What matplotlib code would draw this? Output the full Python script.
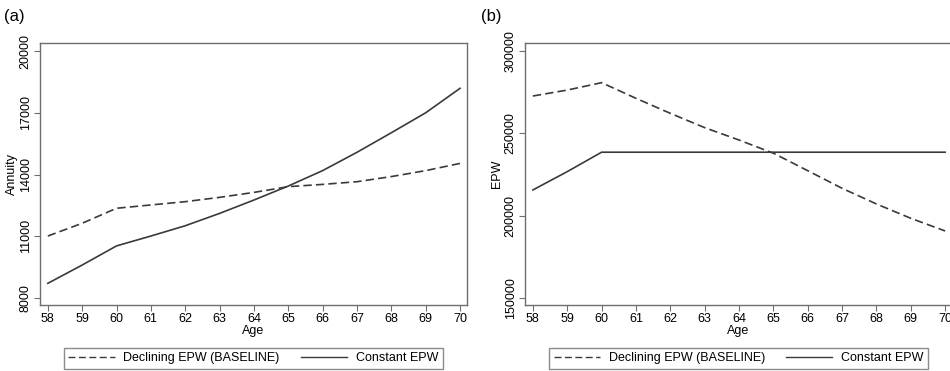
import matplotlib.pyplot as plt
from matplotlib.lines import Line2D

plt.rcParams['font.family'] = ['Liberation Sans', 'DejaVu Sans']

ages = [58, 59, 60, 61, 62, 63, 64, 65, 66, 67, 68, 69, 70]

# panel (a): annuity
annuity_declining = [11010, 11630, 12360, 12520, 12680, 12890, 13130,
                     13410, 13520, 13650, 13900, 14190, 14540]
annuity_constant = [8710, 9600, 10530, 11010, 11510, 12110, 12760,
                    13440, 14190, 15080, 16030, 17000, 18190]

# panel (b): EPW
epw_declining = [272700, 276300, 280800, 271300, 262200, 253500, 246000,
                 238000, 227400, 216700, 207200, 198500, 190800]
epw_constant = [215700, 226800, 238600, 238600, 238600, 238600, 238600,
                238600, 238600, 238600, 238600, 238600, 238600]

annuity_ticks = [8000, 11000, 14000, 17000, 20000]
epw_ticks = [150000, 200000, 250000, 300000]

line_col = '#3a3a3a'
frame_col = '#6e6e6e'

fig = plt.figure(figsize=(9.5, 3.71), dpi=100)
ax1 = fig.add_axes([0.042, 0.178, 0.4495, 0.706])
ax2 = fig.add_axes([0.5526, 0.178, 0.4495, 0.706])

panels = [
    (ax1, annuity_declining, annuity_constant, annuity_ticks, 'Annuity', (7660, 20390)),
    (ax2, epw_declining, epw_constant, epw_ticks, 'EPW', (145900, 304850)),
]

for ax, dec, con, yt, ylab, ylim in panels:
    ax.plot(ages, dec, color=line_col, lw=1.2, ls=(0, (5, 2.5)))
    ax.plot(ages, con, color=line_col, lw=1.2)
    ax.set_xlim(57.77, 70.2)
    ax.set_ylim(*ylim)
    ax.set_xticks(ages)
    ax.set_yticks(yt)
    ax.set_yticklabels([str(v) for v in yt], rotation=90, va='center')
    ax.tick_params(labelsize=9, color=frame_col, length=4, width=0.8, pad=2)
    ax.set_xlabel('Age', fontsize=9, labelpad=0)
    ax.set_ylabel(ylab, fontsize=9, labelpad=1)
    for s in ax.spines.values():
        s.set_color(frame_col)
        s.set_linewidth(1.0)
    handles = [Line2D([], [], color=line_col, lw=1.0, ls=(0, (5, 2.5))),
               Line2D([], [], color=line_col, lw=1.0)]
    leg = ax.legend(handles, ['Declining EPW (BASELINE)', 'Constant EPW'],
                    loc='upper center', bbox_to_anchor=(0.5, -0.14), ncol=2,
                    fontsize=9, frameon=True, fancybox=False, handlelength=3.7,
                    columnspacing=1.7, borderpad=0.35, handletextpad=0.7)
    leg.get_frame().set_edgecolor(frame_col)
    leg.get_frame().set_linewidth(1.0)

fig.text(0.004, 0.955, '(a)', fontsize=12, va='center')
fig.text(0.506, 0.955, '(b)', fontsize=12, va='center')

fig.savefig('out.png', dpi=100)
